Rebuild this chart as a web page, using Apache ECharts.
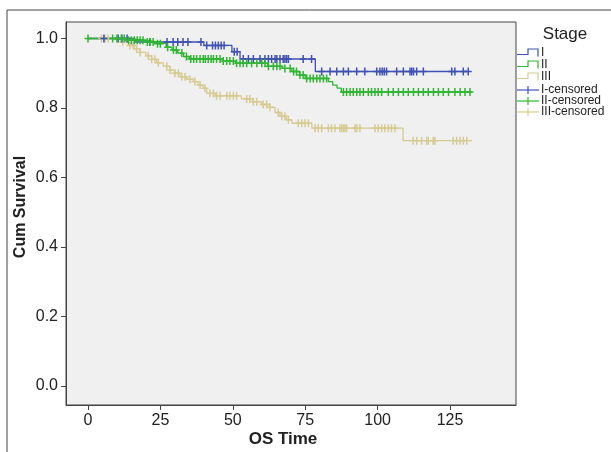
<!DOCTYPE html>
<html>
<head>
<meta charset="utf-8">
<script src="https://cdn.jsdelivr.net/npm/echarts@6/dist/echarts.min.js"></script>
<style>
html,body{margin:0;padding:0;background:#fff;}
#chart{width:611px;height:452px;}
</style>
</head>
<body>
<div id="chart"></div>
<script>
// ---- Data (Kaplan-Meier steps: event times and survival after them) ----
var stageNames = ['I', 'II', 'III'];
var censorNames = ['I-censored', 'II-censored', 'III-censored'];

var stepTimesI  = [0, 16, 40, 49.7, 52.5, 78.5];
var stepLevelsI = [1.0, 0.99, 0.98, 0.962, 0.941, 0.905];
var endTimeI = 131.5;

var stepTimesII  = [0, 13, 20, 24, 27, 29, 31, 33, 35, 46.6, 51, 62, 67, 70.4, 73, 75, 83, 84.5, 86, 87.5];
var stepLevelsII = [1.0, 0.995, 0.99, 0.985, 0.975, 0.967, 0.958, 0.948, 0.941, 0.935, 0.929, 0.92, 0.914, 0.905, 0.895, 0.885, 0.876, 0.866, 0.857, 0.846];
var endTimeII = 132.5;

var stepTimesIII  = [0, 12, 14, 16, 18, 20, 22, 23.7, 26, 28.3, 30, 31.8, 34, 36.3, 38, 39.7, 41, 44, 53, 57, 60, 62.8, 64.6, 66.3, 68.5, 70.4, 77.3, 108.8];
var stepLevelsIII = [1.0, 0.99, 0.98, 0.97, 0.96, 0.95, 0.94, 0.93, 0.92, 0.909, 0.9, 0.89, 0.883, 0.876, 0.866, 0.857, 0.842, 0.835, 0.826, 0.818, 0.81, 0.802, 0.787, 0.776, 0.766, 0.756, 0.742, 0.706];
var endTimeIII = 132.6;

var censorTimesI = [5.5, 10.4, 11.7, 13.5, 21.4, 27.3, 29.4, 31, 32.8, 34.5, 39, 41, 43, 44, 45, 46, 47,
  50.5, 51.5, 53.6, 55.4, 57.1, 59.4, 61.1, 62.3, 63.4, 64.6, 65.2, 66.3, 67.4, 68, 68.6, 69.2, 74.3, 77.2,
  80.7, 83.6, 85.9, 88.2, 89.9, 92.8, 95.6, 99.7, 100.8, 101.6, 102.3, 103.1, 106.6, 108.9, 111.2, 111.8,
  112.4, 113.5, 115.8, 125.6, 126.7, 129.6, 131.3];

var censorTimesII = [0, 8.5, 10, 11.5, 12.5, 14, 15, 16, 17, 18, 19, 20.5, 21.5, 22.5, 24, 25, 27.5, 29.5, 30.5, 32.4,
  34, 35.5, 36.5, 37.5, 38.7, 39.8, 40.5, 41.5, 42.5, 43.3, 44.4, 45.6, 46.7, 47.9, 49, 50.2, 51.3, 52.5, 53.6,
  54.8, 56.5, 58.3, 60, 61.1, 62.3, 64, 65.2, 66.3, 68, 69.8, 71, 72, 73.2, 74.3, 75.5, 76.7, 77.8, 79, 80.1,
  81.3, 82.4, 88.2, 89.3, 90.5, 91.6, 92.8, 93.9, 95.1, 96.8, 97.9, 99.1, 100.2, 101.4, 103.7, 105.4, 107.2,
  108.9, 110.6, 112.4, 114.1, 115.8, 117.5, 119.3, 121, 122.7, 124.5, 126.7, 128.5, 130.2, 131.9];

var censorTimesIII = [4.7, 5.9, 7, 12, 14.5, 15.6, 16.8, 18, 20.8, 22, 23.1, 24.3, 27.2, 28.3, 30, 31.2, 32.4,
  33.5, 35.2, 36.9, 38.7, 40.4, 42.1, 43.3, 44.4, 45.6, 47.9, 49, 50.2, 51.3, 54.8, 55.9, 57.1, 58.3, 60.5,
  61.7, 62.8, 65.7, 66.9, 68, 69.2, 72.6, 73.8, 74.9, 76.1, 78.4, 79.5, 80.7, 83, 84.1, 85.3, 87, 87.6, 88.2,
  88.7, 89.3, 92.2, 92.8, 93.9, 99.1, 100.2, 101.4, 102.5, 103.7, 104.8, 106, 112.3, 113.5, 115.2, 117,
  117.5, 119.2, 119.8, 126.1, 127.3, 128.5, 129.6, 130.8];

var xTicks = [0, 25, 50, 75, 100, 125];
var yTicks = [0, 0.2, 0.4, 0.6, 0.8, 1.0];

// ---- helpers ----
function stepLine(times, levels, endT) {
  var d = times.map(function (t, i) { return [t, levels[i]]; });
  d.push([endT, levels[levels.length - 1]]);
  return d;
}
function levelAt(times, levels, t) {
  var s = levels[0];
  for (var i = 0; i < times.length; i++) { if (times[i] <= t) s = levels[i]; }
  return s;
}
function censorPts(ct, times, levels) {
  return ct.map(function (t) { return [t, levelAt(times, levels, t)]; });
}

var colors = ['#3f52b3', '#2fb532', '#d6cb93'];
var FONT = 'Liberation Sans, Arial, sans-serif';
var plusPath = 'path://M2.75,0H4.25V3.3H7V4.7H4.25V8H2.75V4.7H0V3.3H2.75Z';

var chart = echarts.init(document.getElementById('chart'), null, {renderer: 'canvas'});

var lines = [
  stepLine(stepTimesI, stepLevelsI, endTimeI),
  stepLine(stepTimesII, stepLevelsII, endTimeII),
  stepLine(stepTimesIII, stepLevelsIII, endTimeIII)
];
var cens = [
  censorPts(censorTimesI, stepTimesI, stepLevelsI),
  censorPts(censorTimesII, stepTimesII, stepLevelsII),
  censorPts(censorTimesIII, stepTimesIII, stepLevelsIII)
];

var series = [];
var order = [2, 0, 1];
order.forEach(function (i) {
  series.push({
    name: stageNames[i], type: 'line', step: 'end', data: lines[i],
    symbol: 'none', lineStyle: {color: colors[i], width: 1.3}, itemStyle: {color: colors[i]},
    silent: true, animation: false, z: 2
  });
});
order.forEach(function (i) {
  series.push({
    name: censorNames[i], type: 'scatter', data: cens[i],
    symbol: plusPath, symbolSize: [7, 8],
    itemStyle: {color: colors[i], opacity: 1}, silent: true, animation: false, z: 3
  });
});

// legend graphics
var lgX = 517, lgX2 = 539;
var legendG = [];
legendG.push({type: 'text', x: 565, y: 34, style: {text: 'Stage', font: '17px ' + FONT, fill: '#222', align: 'center', verticalAlign: 'middle'}});
var stepY = [53, 65, 77];
for (var i = 0; i < 3; i++) {
  var yb = stepY[i] + 1.5, yt = stepY[i] - 4;
  legendG.push({type: 'polyline', shape: {points: [[lgX, yb], [528, yb], [528, yt], [538, yt], [538, yb + 2]]},
    style: {stroke: colors[i], lineWidth: 1.2, fill: null}});
  legendG.push({type: 'text', x: 541, y: stepY[i], style: {text: stageNames[i], font: '12px ' + FONT, fill: '#222', verticalAlign: 'middle'}});
}
var cenY = [90, 101, 112];
for (var j = 0; j < 3; j++) {
  legendG.push({type: 'line', shape: {x1: lgX, y1: cenY[j], x2: lgX2, y2: cenY[j]}, style: {stroke: colors[j], lineWidth: 1.2}});
  legendG.push({type: 'line', shape: {x1: 528, y1: cenY[j] - 4, x2: 528, y2: cenY[j] + 4}, style: {stroke: colors[j], lineWidth: 1.2}});
  legendG.push({type: 'text', x: 541, y: cenY[j], style: {text: censorNames[j], font: '12px ' + FONT, fill: '#222', verticalAlign: 'middle'}});
}

var option = {
  backgroundColor: '#ffffff',
  animation: false,
  grid: {left: 66, top: 22, right: 95, bottom: 47, show: true, backgroundColor: '#f0f0f0', borderColor: '#444', borderWidth: 1},
  xAxis: {
    type: 'value', min: -7.6, max: 147.8,
    splitLine: {show: false},
    axisLine: {show: true, onZero: false, lineStyle: {color: '#444'}},
    axisTick: {show: true, length: 5, customValues: xTicks, lineStyle: {color: '#444'}},
    axisLabel: {customValues: xTicks, fontSize: 16, color: '#222', fontFamily: FONT, margin: 8}
  },
  yAxis: {
    type: 'value', min: -0.055, max: 1.0475,
    splitLine: {show: false},
    axisLine: {show: true, onZero: false, lineStyle: {color: '#444'}},
    axisTick: {show: true, length: 5, customValues: yTicks, lineStyle: {color: '#444'}},
    axisLabel: {customValues: yTicks, fontSize: 16, color: '#222', fontFamily: FONT, margin: 8,
      formatter: function (v) { return v.toFixed(1); }}
  },
  graphic: [
    {type: 'rect', shape: {x: 7, y: 10, width: 700, height: 500}, style: {stroke: '#444', lineWidth: 1, fill: null}, z: 100},
    {type: 'text', x: 21, y: 207, rotation: Math.PI / 2, style: {text: 'Cum Survival', font: 'bold 16px ' + FONT, fill: '#222', align: 'center', verticalAlign: 'middle'}},
    {type: 'text', x: 283, y: 439, style: {text: 'OS Time', font: 'bold 17px ' + FONT, fill: '#222', align: 'center', verticalAlign: 'middle'}}
  ].concat(legendG),
  series: series
};
chart.setOption(option);
</script>
</body>
</html>
